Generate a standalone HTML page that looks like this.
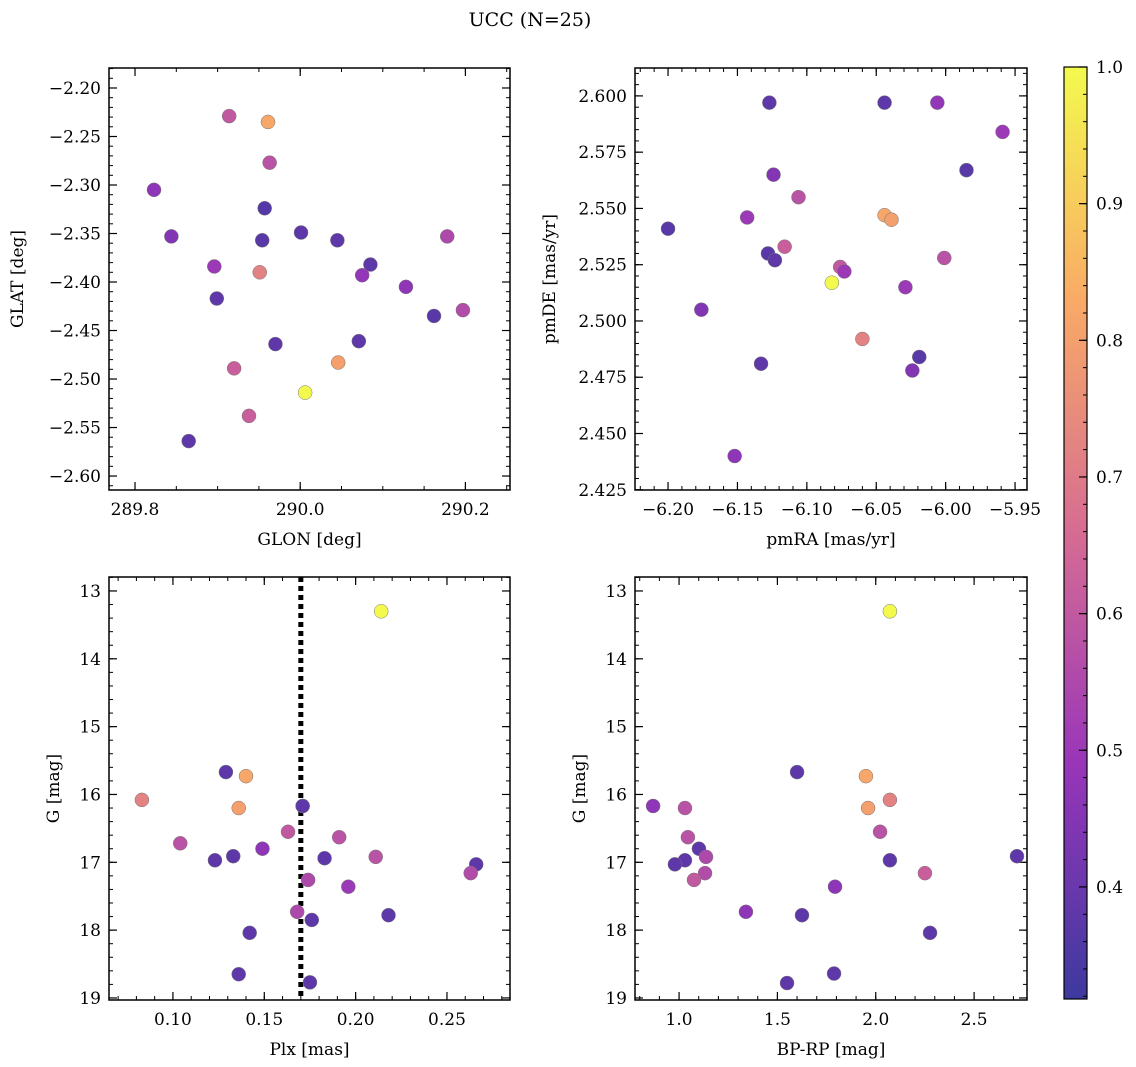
<!DOCTYPE html>
<html><head><meta charset="utf-8"><style>
body{margin:0;background:#fff;}
svg{display:block;font-family:"DejaVu Serif","Liberation Serif",serif;}
</style></head><body>
<svg id="c" width="1136" height="1067" xmlns="http://www.w3.org/2000/svg">
<text x="530" y="26" font-size="19" text-anchor="middle">UCC (N=25)</text>
</svg>
<script>
// ---- data ----
const glon=[289.914,289.961,289.963,289.823,289.957,289.844,289.954,290.001,290.045,290.178,290.085,289.896,289.951,290.075,289.899,290.128,290.197,290.162,289.970,290.071,289.920,290.046,290.006,289.938,289.865];
const glat=[-2.229,-2.235,-2.277,-2.305,-2.324,-2.353,-2.357,-2.349,-2.357,-2.353,-2.382,-2.384,-2.390,-2.393,-2.417,-2.405,-2.429,-2.435,-2.464,-2.461,-2.489,-2.483,-2.514,-2.538,-2.564];
const probTL=[0.60,0.82,0.58,0.47,0.36,0.45,0.37,0.38,0.38,0.55,0.38,0.50,0.72,0.48,0.38,0.47,0.56,0.37,0.38,0.38,0.62,0.80,1.00,0.62,0.38];
const pmra=[-6.127,-6.044,-6.006,-5.959,-5.985,-6.124,-6.143,-6.106,-6.200,-6.044,-6.039,-6.128,-6.123,-6.116,-6.076,-6.073,-6.001,-6.082,-6.029,-6.176,-6.060,-6.019,-6.133,-6.024,-6.152];
const pmde=[2.597,2.597,2.597,2.584,2.567,2.565,2.546,2.555,2.541,2.547,2.545,2.530,2.527,2.533,2.524,2.522,2.528,2.517,2.515,2.505,2.492,2.484,2.481,2.478,2.440];
const probTR=[0.38,0.38,0.48,0.50,0.37,0.45,0.50,0.58,0.37,0.82,0.80,0.37,0.38,0.62,0.60,0.50,0.58,1.00,0.50,0.45,0.72,0.37,0.38,0.45,0.47];
const plx=[0.214,0.129,0.140,0.083,0.136,0.171,0.163,0.104,0.191,0.149,0.133,0.123,0.211,0.183,0.266,0.263,0.174,0.196,0.168,0.176,0.218,0.142,0.136,0.175,0.171];
const gBL=[13.30,15.67,15.73,16.08,16.20,16.17,16.55,16.72,16.63,16.80,16.91,16.97,16.92,16.94,17.03,17.16,17.26,17.36,17.73,17.85,17.78,18.04,18.65,18.77,16.17];
const probBL=[1.00,0.38,0.82,0.72,0.80,0.48,0.60,0.58,0.58,0.47,0.38,0.38,0.58,0.38,0.38,0.56,0.55,0.50,0.55,0.38,0.38,0.38,0.38,0.38,0.38];
const bprp=[2.072,1.600,1.950,2.072,0.868,1.030,1.961,2.022,1.045,1.101,1.030,1.137,2.072,2.718,2.250,0.979,1.132,1.076,1.793,1.340,1.625,2.276,1.788,1.549];
const gBR=[13.30,15.67,15.73,16.08,16.17,16.20,16.20,16.55,16.63,16.80,16.97,16.92,16.97,16.91,17.16,17.03,17.16,17.26,17.36,17.73,17.78,18.04,18.64,18.78];
const probBR=[1.00,0.38,0.82,0.72,0.47,0.58,0.80,0.58,0.58,0.38,0.38,0.55,0.38,0.38,0.62,0.38,0.56,0.60,0.47,0.47,0.38,0.38,0.38,0.38];
const plxCut=0.170;
const cbTicks=[0.4,0.5,0.6,0.7,0.8,0.9,1.0];
// ---- helpers ----
const svg=document.getElementById('c');const NS='http://www.w3.org/2000/svg';
function mk(t,a,p){const e=document.createElementNS(NS,t);for(const k in a)e.setAttribute(k,a[k]);(p||svg).appendChild(e);return e;}
const CMIN=0.318,CMAX=1.0;
const stops=[[0,[13,8,135]],[0.25,[126,3,168]],[0.5,[204,71,120]],[0.75,[248,149,64]],[1,[240,249,33]]];
function cmap(v){let t=(v-CMIN)/(CMAX-CMIN);t=Math.max(0,Math.min(1,t));
 for(let i=0;i<stops.length-1;i++){const[a,ca]=stops[i],[b,cb]=stops[i+1];if(t<=b){const f=(t-a)/(b-a);
 const c=ca.map((x,j)=>Math.round(0.8*(x+(cb[j]-x)*f)+51));return `rgb(${c})`;}}return 'rgb(243,250,77)';}
function fmt(v,d){const s=Math.abs(v).toFixed(d);return (v<-1e-9?'\u2212':'')+s;}
function panel(o){
 const g=mk('g',{});
 const X=v=>o.x0+(v-o.xmin)/(o.xmax-o.xmin)*(o.x1-o.x0);
 const Y=v=>o.inv? o.y0+(v-o.ymin)/(o.ymax-o.ymin)*(o.y1-o.y0) : o.y1-(v-o.ymin)/(o.ymax-o.ymin)*(o.y1-o.y0);
 for(let k=Math.ceil(o.xmin/o.xmn-1e-6);k*o.xmn<=o.xmax+1e-9;k++){const px=X(k*o.xmn);
  mk('line',{x1:px,x2:px,y1:o.y1,y2:o.y1-4,stroke:'#000','stroke-width':1},g);mk('line',{x1:px,x2:px,y1:o.y0,y2:o.y0+4,stroke:'#000','stroke-width':1},g);}
 for(let k=Math.ceil(o.ymin/o.ymn-1e-6);k*o.ymn<=o.ymax+1e-9;k++){const py=Y(k*o.ymn);
  mk('line',{x1:o.x0,x2:o.x0+4,y1:py,y2:py,stroke:'#000','stroke-width':1},g);mk('line',{x1:o.x1,x2:o.x1-4,y1:py,y2:py,stroke:'#000','stroke-width':1},g);}
 o.xt.forEach(v=>{const px=X(v);
  mk('line',{x1:px,x2:px,y1:o.y1,y2:o.y1-8,stroke:'#000','stroke-width':1.2},g);mk('line',{x1:px,x2:px,y1:o.y0,y2:o.y0+8,stroke:'#000','stroke-width':1.2},g);
  const t=mk('text',{x:px,y:o.y1+25,'font-size':17,'text-anchor':'middle'},g);t.textContent=fmt(v,o.xd);
  });
 o.yt.forEach(v=>{const py=Y(v);
  mk('line',{x1:o.x0,x2:o.x0+8,y1:py,y2:py,stroke:'#000','stroke-width':1.2},g);mk('line',{x1:o.x1,x2:o.x1-8,y1:py,y2:py,stroke:'#000','stroke-width':1.2},g);
  const t=mk('text',{x:o.x0-8,y:py+6,'font-size':17,'text-anchor':'end'},g);t.textContent=fmt(v,o.yd);
  });
 if(o.vline!==undefined){const l=mk('line',{x1:X(o.vline),x2:X(o.vline),y1:o.y0,y2:o.y1,stroke:'#000','stroke-width':5,'stroke-dasharray':'5,4'},g);
  }
 o.xs.forEach((v,i)=>{const c=mk('circle',{cx:X(v),cy:Y(o.ys[i]),r:7,fill:cmap(o.cs[i]),stroke:'#777','stroke-width':0.5},g);
  });
 const r=mk('rect',{x:o.x0,y:o.y0,width:o.x1-o.x0,height:o.y1-o.y0,fill:'none',stroke:'#000','stroke-width':1.5},g);
 
 const xl=mk('text',{x:(o.x0+o.x1)/2,y:o.y1+55,'font-size':17,'text-anchor':'middle'},g);xl.textContent=o.xl;
 
 const cy=(o.y0+o.y1)/2,cx=o.x0-o.ylo;
 const yl=mk('text',{x:cx,y:cy,'font-size':17,'text-anchor':'middle',transform:`rotate(-90 ${cx} ${cy})`},g);yl.textContent=o.yl;
 
}
panel({name:'glon-glat-panel',x0:109,x1:510,y0:68,y1:490,xmin:289.7685,xmax:290.254,ymin:-2.6144,ymax:-2.1794,
 xt:[289.8,290.0,290.2],xd:1,xmn:0.05,yt:[-2.6,-2.55,-2.5,-2.45,-2.4,-2.35,-2.3,-2.25,-2.2],yd:2,ymn:0.01,
 xs:glon,ys:glat,cs:probTL,xl:'GLON [deg]',yl:'GLAT [deg]',ylo:86});
panel({name:'pm-panel',x0:635,x1:1027,y0:68,y1:490,xmin:-6.2238,xmax:-5.9414,ymin:2.4249,ymax:2.6124,
 xt:[-6.2,-6.15,-6.1,-6.05,-6.0,-5.95],xd:2,xmn:0.01,yt:[2.425,2.45,2.475,2.5,2.525,2.55,2.575,2.6],yd:3,ymn:0.005,
 xs:pmra,ys:pmde,cs:probTR,xl:'pmRA [mas/yr]',yl:'pmDE [mas/yr]',ylo:80});
panel({name:'plx-g-panel',x0:109,x1:510,y0:577,y1:1000,xmin:0.065,xmax:0.2845,ymin:12.794,ymax:19.03,inv:true,
 xt:[0.1,0.15,0.2,0.25],xd:2,xmn:0.01,yt:[13,14,15,16,17,18,19],yd:0,ymn:0.2,vline:plxCut,
 xs:plx,ys:gBL,cs:probBL,xl:'Plx [mas]',yl:'G [mag]',ylo:50});
panel({name:'cmd-panel',x0:635,x1:1027,y0:577,y1:1000,xmin:0.776,xmax:2.769,ymin:12.794,ymax:19.03,inv:true,
 xt:[1.0,1.5,2.0,2.5],xd:1,xmn:0.1,yt:[13,14,15,16,17,18,19],yd:0,ymn:0.2,
 xs:bprp,ys:gBR,cs:probBR,xl:'BP-RP [mag]',yl:'G [mag]',ylo:50});
// colorbar
const cb=mk('g',{});
const defs=mk('defs',{});const lg=mk('linearGradient',{id:'cg',x1:0,y1:1,x2:0,y2:0},defs);
for(let i=0;i<=20;i++){const v=CMIN+(CMAX-CMIN)*i/20;mk('stop',{offset:i/20,'stop-color':cmap(v)},lg);}
const cby0=67,cby1=999,cbx0=1064,cbx1=1087;
mk('rect',{x:cbx0,y:cby0,width:cbx1-cbx0,height:cby1-cby0,fill:'url(#cg)',stroke:'#000','stroke-width':1.2},cb);
const CY=v=>cby1-(v-CMIN)/(CMAX-CMIN)*(cby1-cby0);
for(let k=16;k<=50;k++){const v=k*0.02;if(v<CMIN)continue;mk('line',{x1:cbx1,x2:cbx1-4,y1:CY(v),y2:CY(v),stroke:'#000','stroke-width':1},cb);}
cbTicks.forEach(v=>{const y=CY(v);mk('line',{x1:cbx1,x2:cbx1-8,y1:y,y2:y,stroke:'#000','stroke-width':1.2},cb);
 const t=mk('text',{x:cbx1+9,y:y+6,'font-size':17},cb);t.textContent=v.toFixed(1);
 });
</script>
</body></html>
